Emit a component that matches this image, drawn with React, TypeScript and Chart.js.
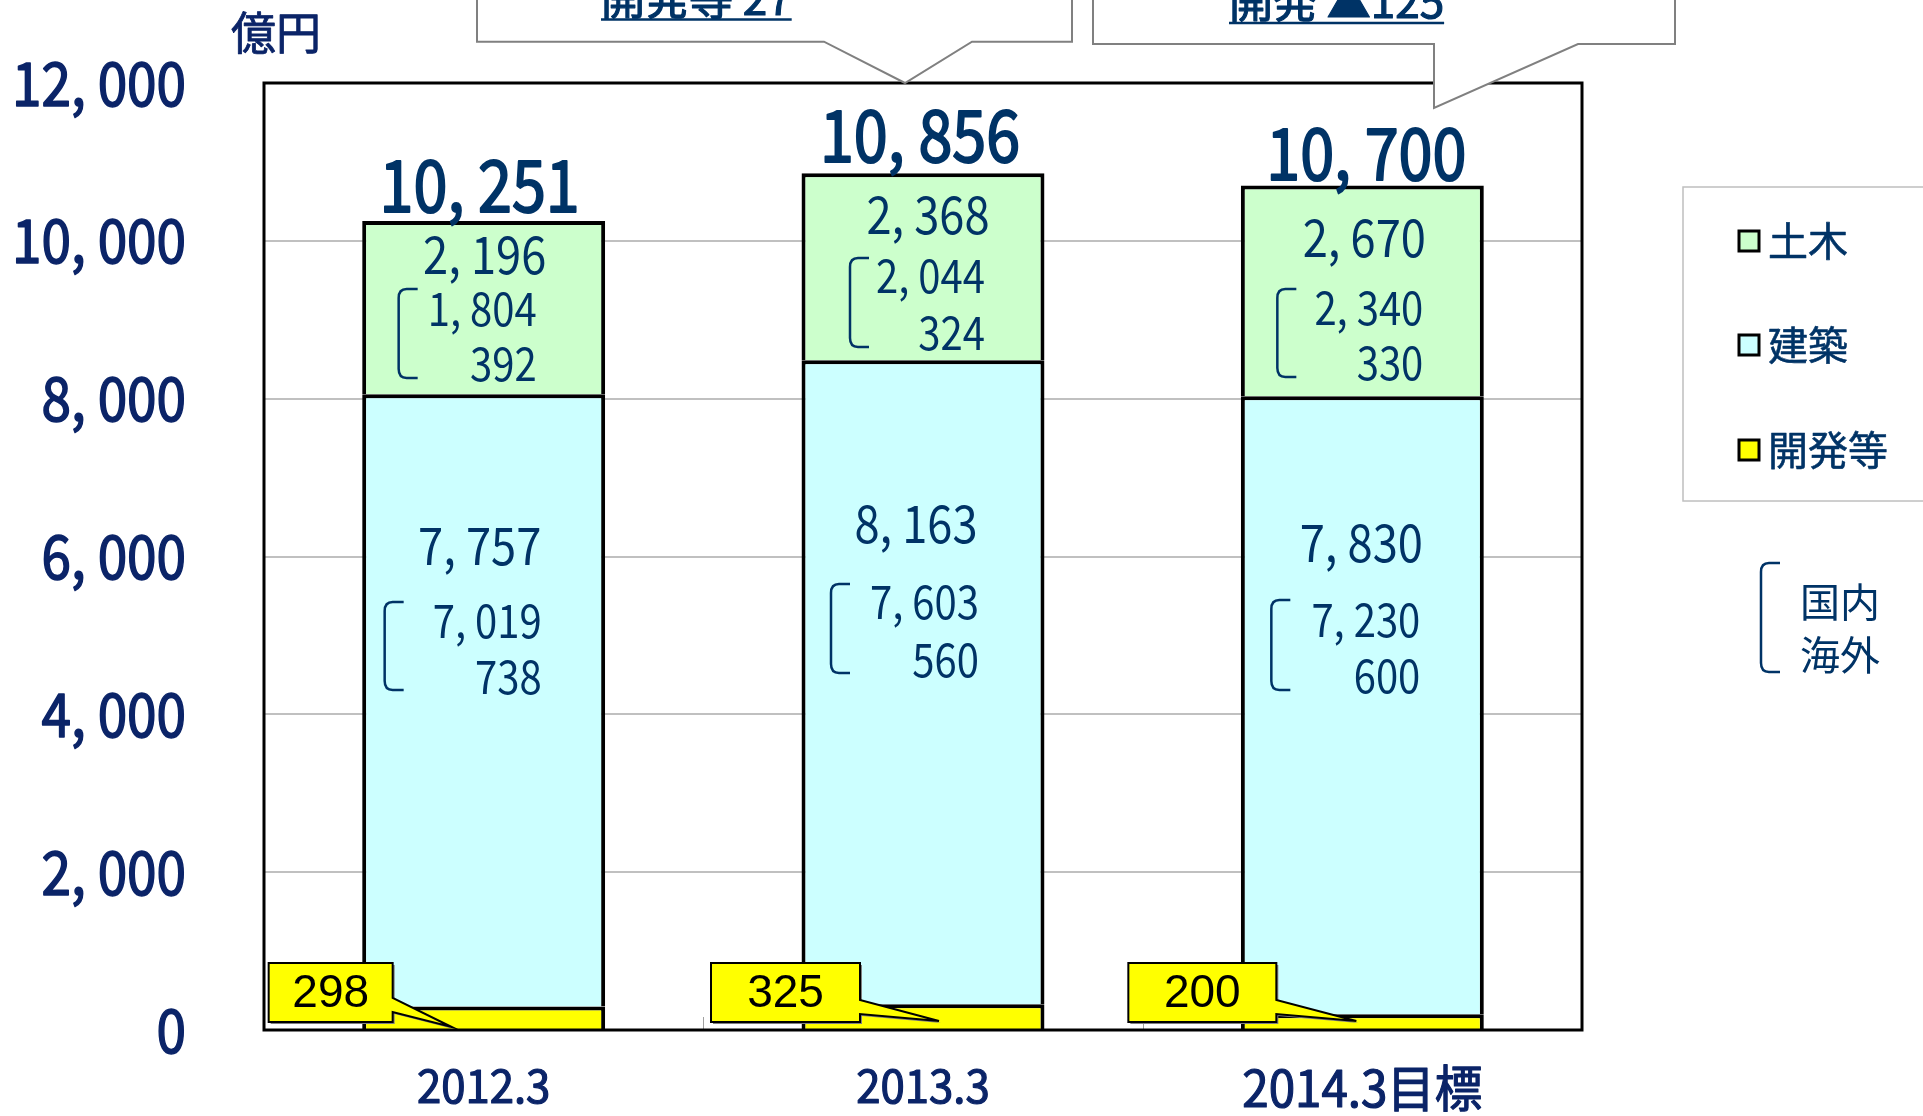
import React, { useEffect, useRef } from "react";
import { Chart, registerables } from "chart.js";

Chart.register(...registerables);

// ---------------- data ----------------
const categories = ["2012.3", "2013.3", "2014.3目標"];
const seriesNames = ["開発等", "建築", "土木"];
const kaihatsu = [298, 325, 200];
const kenchiku = [7757, 8163, 7830];
const doboku = [2196, 2368, 2670];
const kenchikuDomestic = [7019, 7603, 7230];
const kenchikuOverseas = [738, 560, 600];
const dobokuDomestic = [1804, 2044, 2340];
const dobokuOverseas = [392, 324, 330];
const totals = [10251, 10856, 10700];
const yMin = 0;
const yMax = 12000;
const yStep = 2000;
const unitLabel = "億円";
const bracketLegend = ["国内", "海外"];
const calloutTexts = ["開発等 27", "開発 ▲125"];

// ---------------- styles / layout ----------------
const COLORS = ["#FFFF00", "#CCFFFF", "#CCFFCC"];
const NAVY = "#003366";
const AXIS_NAVY = "#0B2468";
const JP = '"Noto Sans CJK JP", "Noto Sans", sans-serif';
const ARIAL = '"Liberation Sans", Arial, sans-serif';
const PAD = { left: 264, right: 341, top: 83, bottom: 86 };

// per bar label layout: offsets from bar centre (px) and absolute baselines (px)
const LAYOUT = [
  { tot: [-4, 212], dob: [1, 274], dobSubR: 53, dobSubY: [326, 381], dobBr: [-85, 289, 378],
    ken: [-4, 565], kenSubR: 58, kenSubY: [638, 694], kenBr: [-99, 602, 690],
    tag: { l: -215, r: -91, tip: [-32, 1027], att: [998, 1012] } },
  { tot: [-3, 162], dob: [5, 234], dobSubR: 62, dobSubY: [293, 350], dobBr: [-73, 258, 347],
    ken: [-7, 543], kenSubR: 56, kenSubY: [619, 677], kenBr: [-92, 584, 673],
    tag: { l: -212, r: -63, tip: [16, 1021], att: [1000, 1014] } },
  { tot: [4, 180], dob: [2, 257], dobSubR: 61, dobSubY: [325, 380], dobBr: [-85, 289, 377],
    ken: [-1, 562], kenSubR: 58, kenSubY: [637, 693], kenBr: [-91, 600, 690],
    tag: { l: -234, r: -86, tip: [-6, 1021], att: [1000, 1014] } },
];
const XLAB = [
  { size: 46, base: 1103 },
  { size: 46, base: 1103 },
  { size: 50, base: 1107 },
];

const fmt = (n: number) =>
  n >= 1000 ? `${Math.floor(n / 1000)}, ${String(n % 1000).padStart(3, "0")}` : String(n);

function txt(
  ctx: CanvasRenderingContext2D, s: string, x: number, y: number, font: string,
  color: string, align: CanvasTextAlign, sx = 1, baseline: CanvasTextBaseline = "alphabetic", stroke = 0
) {
  ctx.save();
  ctx.font = font;
  ctx.fillStyle = color;
  ctx.textAlign = align;
  ctx.textBaseline = baseline;
  ctx.translate(x, y);
  ctx.scale(sx, 1);
  ctx.fillText(s, 0, 0);
  if (stroke > 0) {
    ctx.strokeStyle = color;
    ctx.lineWidth = stroke;
    ctx.lineJoin = "round";
    ctx.strokeText(s, 0, 0);
  }
  ctx.restore();
}

function bracket(ctx: CanvasRenderingContext2D, x: number, y1: number, y2: number) {
  ctx.save();
  ctx.strokeStyle = NAVY;
  ctx.lineWidth = 2.5;
  ctx.beginPath();
  ctx.moveTo(x + 19, y1);
  ctx.lineTo(x + 8, y1);
  ctx.quadraticCurveTo(x, y1, x, y1 + 9);
  ctx.lineTo(x, y2 - 9);
  ctx.quadraticCurveTo(x, y2, x + 8, y2);
  ctx.lineTo(x + 19, y2);
  ctx.stroke();
  ctx.restore();
}

const overlay = {
  id: "overlay",
  afterDraw(chart: any) {
    const { ctx, chartArea: a, scales } = chart;
    const xs = scales.x;
    const ys = scales.y;
    const n = categories.length;

    // category boundary ticks
    ctx.save();
    ctx.strokeStyle = "#A0A0A0";
    ctx.lineWidth = 1;
    for (let i = 0; i < n - 1; i++) {
      const bx = Math.round((xs.getPixelForValue(i) + xs.getPixelForValue(i + 1)) / 2) + 0.5;
      ctx.beginPath();
      ctx.moveTo(bx, a.bottom);
      ctx.lineTo(bx, a.bottom - 13);
      ctx.stroke();
    }
    ctx.restore();

    // plot frame
    ctx.save();
    ctx.strokeStyle = "#000";
    ctx.lineWidth = 3;
    ctx.strokeRect(a.left, a.top, a.right - a.left, a.bottom - a.top);
    ctx.restore();

    // y tick labels
    ys.ticks.forEach((t: any) => {
      txt(ctx, fmt(t.value), 186, ys.getPixelForValue(t.value) + 22.5, `61px ${JP}`, AXIS_NAVY, "right", 0.87, "alphabetic", 1.6);
    });
    txt(ctx, unitLabel, 276, 33, `45px ${JP}`, AXIS_NAVY, "center", 1, "middle", 0.8);

    // x labels
    categories.forEach((c, i) => {
      txt(ctx, c, xs.getPixelForValue(i), XLAB[i].base, `${XLAB[i].size}px ${JP}`, AXIS_NAVY, "center", 0.95, "alphabetic", 1.2);
    });

    // bar annotations
    categories.forEach((_, i) => {
      const cx = xs.getPixelForValue(i);
      const L = LAYOUT[i];
      txt(ctx, fmt(totals[i]), cx + L.tot[0], L.tot[1], `71px ${JP}`, NAVY, "center", 0.86, "alphabetic", 2.0);
      txt(ctx, fmt(doboku[i]), cx + L.dob[0], L.dob[1], `52px ${JP}`, NAVY, "center", 0.87);
      txt(ctx, fmt(dobokuDomestic[i]), cx + L.dobSubR, L.dobSubY[0], `46px ${JP}`, NAVY, "right", 0.87);
      txt(ctx, fmt(dobokuOverseas[i]), cx + L.dobSubR, L.dobSubY[1], `46px ${JP}`, NAVY, "right", 0.87);
      bracket(ctx, cx + L.dobBr[0], L.dobBr[1], L.dobBr[2]);
      txt(ctx, fmt(kenchiku[i]), cx + L.ken[0], L.ken[1], `52px ${JP}`, NAVY, "center", 0.87);
      txt(ctx, fmt(kenchikuDomestic[i]), cx + L.kenSubR, L.kenSubY[0], `46px ${JP}`, NAVY, "right", 0.87);
      txt(ctx, fmt(kenchikuOverseas[i]), cx + L.kenSubR, L.kenSubY[1], `46px ${JP}`, NAVY, "right", 0.87);
      bracket(ctx, cx + L.kenBr[0], L.kenBr[1], L.kenBr[2]);

      // yellow callout tag
      const T = L.tag;
      const l = cx + T.l, r = cx + T.r, top = 963, bot = 1022;
      const path = (dx: number) => {
        ctx.beginPath();
        ctx.moveTo(l + dx, top + dx);
        ctx.lineTo(r + dx, top + dx);
        ctx.lineTo(r + dx, T.att[0] + dx);
        ctx.lineTo(cx + T.tip[0] + dx, T.tip[1] + dx);
        ctx.lineTo(r + dx, T.att[1] + dx);
        ctx.lineTo(r + dx, bot + dx);
        ctx.lineTo(l + dx, bot + dx);
        ctx.closePath();
      };
      ctx.save();
      path(2);
      ctx.fillStyle = "#808080";
      ctx.fill();
      path(0);
      ctx.fillStyle = "#FFFF00";
      ctx.fill();
      ctx.strokeStyle = "#000";
      ctx.lineWidth = 2;
      ctx.lineJoin = "miter";
      ctx.stroke();
      ctx.restore();
      txt(ctx, fmt(kaihatsu[i]), (l + r) / 2, 1007, `46px ${ARIAL}`, "#000", "center");
    });

    // legend box
    ctx.save();
    ctx.fillStyle = "#fff";
    ctx.fillRect(1683, 187, 260, 314);
    ctx.strokeStyle = "#BFBFBF";
    ctx.lineWidth = 1.5;
    ctx.strokeRect(1683, 187, 260, 314);
    ctx.restore();
    const ds = chart.data.datasets;
    const legendY = [241, 345, 450];
    [2, 1, 0].forEach((di, k) => {
      const yy = legendY[k];
      ctx.save();
      ctx.fillStyle = ds[di].backgroundColor;
      ctx.fillRect(1739, yy - 10, 20, 20);
      ctx.strokeStyle = "#000";
      ctx.lineWidth = 3;
      ctx.strokeRect(1739, yy - 10, 20, 20);
      ctx.restore();
      txt(ctx, ds[di].label, 1768, yy, `40px ${JP}`, NAVY, "left", 1, "middle", 0.6);
    });
    bracket(ctx, 1761, 563, 672);
    txt(ctx, bracketLegend[0], 1800, 602, `40px ${JP}`, NAVY, "left", 1, "middle");
    txt(ctx, bracketLegend[1], 1800, 655, `40px ${JP}`, NAVY, "left", 1, "middle");

    // top callouts (speech bubbles)
    const bubble = (l: number, r: number, b: number, p1: number, tip: [number, number], p2: number) => {
      ctx.save();
      ctx.beginPath();
      ctx.moveTo(l, -10);
      ctx.lineTo(r, -10);
      ctx.lineTo(r, b);
      ctx.lineTo(p2, b);
      ctx.lineTo(tip[0], tip[1]);
      ctx.lineTo(p1, b);
      ctx.lineTo(l, b);
      ctx.closePath();
      ctx.fillStyle = "#fff";
      ctx.fill();
      ctx.strokeStyle = "#808080";
      ctx.lineWidth = 2;
      ctx.stroke();
      ctx.restore();
    };
    bubble(477, 1072, 41.7, 824, [905, 83], 972);
    bubble(1093, 1675, 44, 1434, [1434, 108], 1578);
    const under = (s: string, x: number, base: number, uy: number) => {
      ctx.save();
      ctx.font = `44px ${JP}`;
      const w = ctx.measureText(s).width;
      ctx.restore();
      txt(ctx, s, x, base, `44px ${JP}`, NAVY, "left", 1, "alphabetic", 1.2);
      ctx.save();
      ctx.strokeStyle = NAVY;
      ctx.lineWidth = 2.5;
      ctx.beginPath();
      ctx.moveTo(x, uy);
      ctx.lineTo(x + w, uy);
      ctx.stroke();
      ctx.restore();
    };
    under(calloutTexts[0], 601, 15, 19.5);
    under(calloutTexts[1], 1229, 18, 23);
  },
};

export default function App() {
  const ref = useRef<HTMLCanvasElement>(null);
  useEffect(() => {
    const chart = new Chart(ref.current as HTMLCanvasElement, {
      type: "bar",
      data: {
        labels: categories,
        datasets: [
          { label: seriesNames[0], data: kaihatsu, backgroundColor: COLORS[0] },
          { label: seriesNames[1], data: kenchiku, backgroundColor: COLORS[1] },
          { label: seriesNames[2], data: doboku, backgroundColor: COLORS[2] },
        ].map((d) => ({
          ...d,
          borderColor: "#000",
          borderWidth: 4,
          borderSkipped: "start" as const,
          barPercentage: 0.553,
          categoryPercentage: 1,
        })),
      },
      options: {
        responsive: false,
        animation: false,
        layout: { padding: PAD },
        plugins: { legend: { display: false }, tooltip: { enabled: false } },
        scales: {
          x: { stacked: true, display: false },
          y: {
            stacked: true,
            min: yMin,
            max: yMax,
            ticks: { display: false, stepSize: yStep },
            grid: { color: "#C0C0C0", lineWidth: 2, drawTicks: false },
            border: { display: false },
          },
        },
      },
      plugins: [overlay],
    });
    return () => chart.destroy();
  }, []);
  return (
    <div style={{ position: "fixed", left: 0, top: 0, width: 1923, height: 1116, background: "#fff" }}>
      <canvas ref={ref} width={1923} height={1116} style={{ display: "block", width: 1923, height: 1116 }} />
    </div>
  );
}
